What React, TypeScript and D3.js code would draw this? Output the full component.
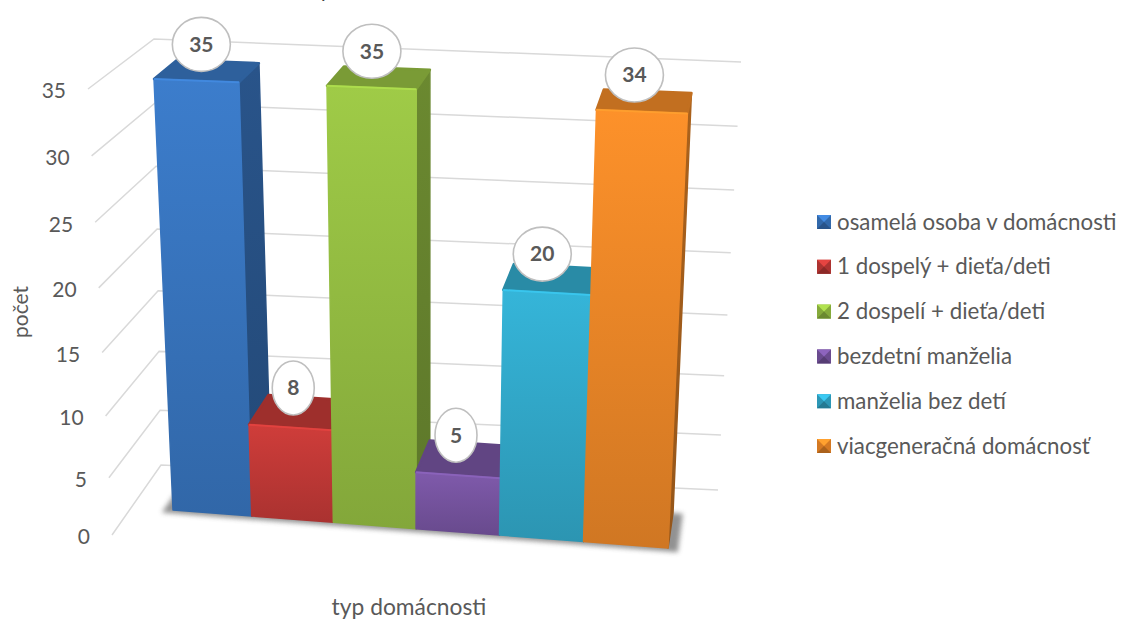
import * as d3 from 'd3'
import * as React from 'react'

//------------------------------data------------------------------
const categories = [
  'osamelá osoba v domácnosti',
  '1 dospelý + dieťa/deti',
  '2 dospelí + dieťa/deti',
  'bezdetní manželia',
  'manželia bez detí',
  'viacgeneračná domácnosť'
]
const counts = [35, 8, 35, 5, 20, 34]
const yTicks = [0, 5, 10, 15, 20, 25, 30, 35]
const barColors = ['#3c7dcc', '#cf3d3a', '#9fcb47', '#7f5aab', '#35b5d9', '#fd912a']

const WIDTH = 1122
const HEIGHT = 620
const FONT = 'Lato, sans-serif'
const TEXT = '#595959'

type Pt = [number, number]

//------------------------------projection------------------------------
// frame of the bars: front and back planes, value 0 and value 35, left and right
const frontBottom: [Pt, Pt] = [[173, 510], [668, 548]]
const frontTop: [Pt, Pt] = [[154, 79], [688, 100]]
const backBottom: [Pt, Pt] = [[195, 478], [673, 513]]
const backTop: [Pt, Pt] = [[177, 60], [692, 80]]
// grid walls
const wallFrontLeft: [Pt, Pt] = [[112, 535], [88, 89]]
const wallBackLeft: [Pt, Pt] = [[161, 465], [154, 39]]
const wallBackRight: [Pt, Pt] = [[718, 490], [741, 62]]

const lerp = (a: Pt, b: Pt, t: number): Pt => d3.interpolateArray(a, b)(t) as Pt

const xBand = d3.scaleBand<string>().domain(categories).range([0, 1])
const xWarp = d3.scalePow().exponent(1.026).domain([0, 1]).range([0, 1])
const yScale = d3.scalePow().exponent(1.055).domain([0, 35]).range([0, 1])

const project = (x: number, v: number, z: number): Pt => {
  const u = xWarp(x)
  const t = yScale(v)
  const front = lerp(lerp(frontBottom[0], frontBottom[1], u), lerp(frontTop[0], frontTop[1], u), t)
  const back = lerp(lerp(backBottom[0], backBottom[1], u), lerp(backTop[0], backTop[1], u), t)
  return lerp(front, back, z)
}
const wall = (edge: [Pt, Pt], v: number): Pt => lerp(edge[0], edge[1], yScale(v))

const poly = d3.line<Pt>().curve(d3.curveLinearClosed)

const shade = (color: string, k: number) => d3.color(color)!.darker(k).formatHex()

//------------------------------Component------------------------------
const Bar = ({ name, value, color, index }: { name: string; value: number; color: string; index: number }) => {
  const x0 = xBand(name)!
  const x1 = x0 + xBand.bandwidth()
  const fl0 = project(x0, 0, 0)
  const fr0 = project(x1, 0, 0)
  const flv = project(x0, value, 0)
  const frv = project(x1, value, 0)
  const blv = project(x0, value, 1)
  const brv = project(x1, value, 1)
  const br0 = project(x1, 0, 1)
  return (
    <g strokeLinejoin="round" strokeWidth={1.5}>
      <path d={poly([frv, brv, br0, fr0])!} fill={`url(#side-${index})`} stroke={`url(#side-${index})`} />
      <path d={poly([flv, blv, brv, frv])!} fill={shade(color, 0.75)} stroke={shade(color, 0.75)} strokeWidth={2.5} />
      <path d={poly([flv, frv, fr0, fl0])!} fill={`url(#front-${index})`} stroke={`url(#front-${index})`} />
      <path d={d3.line()([flv, frv])!} stroke={d3.color(color)!.brighter(0.35).formatHex()} strokeWidth={2} opacity={0.7} fill="none" />
    </g>
  )
}

const Swatch = ({ color, y }: { color: string; y: number }) => {
  const s = 14
  const x = 817
  const c: Pt = [x + s / 2, y]
  const tl: Pt = [x, y - s / 2]
  const tr: Pt = [x + s, y - s / 2]
  const bl: Pt = [x, y + s / 2]
  const br: Pt = [x + s, y + s / 2]
  return (
    <g>
      <rect x={x} y={y - s / 2} width={s} height={s} fill={shade(color, 0.5)} />
      <path d={poly([tl, tr, c])!} fill={d3.color(color)!.brighter(0.3).formatHex()} />
      <path d={poly([bl, br, c])!} fill={shade(color, 1.1)} />
    </g>
  )
}

export default function App() {
  const shadow = [project(-0.02, 0, -0.1), project(1.02, 0, -0.1), project(1.02, 0, 1), project(-0.02, 0, 1)]
  return (
    <svg
      width={WIDTH}
      height={HEIGHT}
      viewBox={`0 0 ${WIDTH} ${HEIGHT}`}
      style={{ position: 'absolute', left: 0, top: 0, display: 'block', background: '#fff' }}
      fontFamily={FONT}
    >
      <defs>
        <filter id="soft" x="-10%" y="-10%" width="120%" height="120%">
          <feGaussianBlur stdDeviation={2.5} />
        </filter>
        {barColors.map((c, i) => (
          <React.Fragment key={c}>
            <linearGradient id={`front-${i}`} x1="0" y1="0" x2="0" y2="1">
              <stop offset="0" stopColor={c} />
              <stop offset="1" stopColor={shade(c, 0.55)} />
            </linearGradient>
            <linearGradient id={`side-${i}`} x1="0" y1="0" x2="0" y2="1">
              <stop offset="0" stopColor={shade(c, 1.1)} />
              <stop offset="1" stopColor={shade(c, 1.5)} />
            </linearGradient>
          </React.Fragment>
        ))}
      </defs>

      {/* part of the title, cut by the top of the picture */}
      <text x={321} y={-2} fontSize={20} fill="#404040">p</text>

      <g id="grid" stroke="#d9d9d9" strokeWidth={1.5} fill="none">
        {yTicks.map(t => (
          <path key={t} d={d3.line()([wall(wallFrontLeft, t), wall(wallBackLeft, t), wall(wallBackRight, t)])!} />
        ))}
      </g>
      <g id="y-axis" fill={TEXT} fontSize={21} textAnchor="end">
        {yTicks.map(t => {
          const [x, y] = wall(wallFrontLeft, t)
          return (
            <text key={t} x={x - 22} y={y + 4} dominantBaseline="middle">
              {t}
            </text>
          )
        })}
      </g>

      <path d={poly(shadow)!} fill="#7f7f7f" opacity={0.85} filter="url(#soft)" />

      {categories.map((c, i) => (
        <Bar key={c} name={c} value={counts[i]} color={barColors[i]} index={i} />
      ))}

      <g id="labels">
        {categories.map((c, i) => {
          const mid = xBand(c)! + xBand.bandwidth() / 2
          const [px, py] = project(mid, counts[i], 0.3)
          const cx = px - 10 * mid
          const cy = py - 30.5
          return (
            <g key={c}>
              <ellipse cx={cx} cy={cy} rx={counts[i] < 10 ? 21 : 29} ry={27} fill="#fff" stroke="#bfbfbf" strokeWidth={1.6} />
              <text x={cx} y={cy + 2} textAnchor="middle" dominantBaseline="middle" fontSize={21} fontWeight={700} fill={TEXT}>
                {counts[i]}
              </text>
            </g>
          )
        })}
      </g>

      <text transform="translate(28,312) rotate(-90)" textAnchor="middle" fontSize={21} fill={TEXT}>počet</text>
      <text x={409} y={614.5} textAnchor="middle" fontSize={22.8} fill={TEXT}>typ domácnosti</text>

      <g id="legend">
        {categories.map((c, i) => {
          const y = 222 + i * 44.8
          return (
            <g key={c}>
              <Swatch color={barColors[i]} y={y} />
              <text x={837} y={y + 2} dominantBaseline="middle" fontSize={22.3} fill={TEXT}>{c}</text>
            </g>
          )
        })}
      </g>
    </svg>
  )
}
